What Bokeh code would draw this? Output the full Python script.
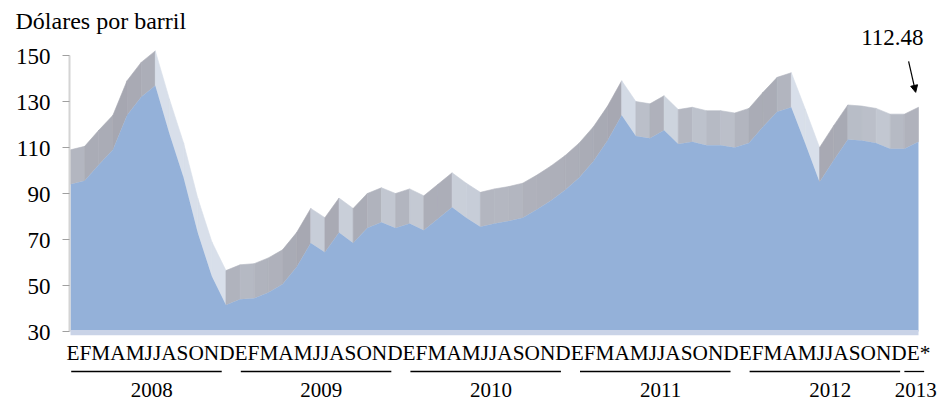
import math
from bokeh.plotting import figure
from bokeh.models import Range1d, Arrow, NormalHead
from bokeh.core.properties import value
from bokeh.embed import file_html
from bokeh.resources import INLINE

# ---------------- data ----------------
months = ["E", "F", "M", "A", "M", "J", "J", "A", "S", "O", "N", "D"]
years = ["2008", "2009", "2010", "2011", "2012", "2013"]
prices_2008 = [94.0, 95.5, 102.5, 109.0, 124.0, 132.0, 137.0, 116.0, 97.0, 73.0, 54.0, 41.5]
prices_2009 = [44.0, 44.5, 47.0, 50.5, 58.0, 68.5, 64.5, 73.0, 68.5, 75.0, 77.5, 75.0]
prices_2010 = [77.0, 74.0, 79.0, 84.0, 79.5, 75.5, 77.0, 78.0, 79.5, 83.0, 87.0, 91.5]
prices_2011 = [97.0, 104.0, 113.0, 124.0, 115.0, 114.0, 117.5, 111.5, 112.5, 111.0, 111.0, 110.0]
prices_2012 = [112.0, 119.0, 125.5, 127.5, 111.5, 95.0, 104.5, 113.5, 113.0, 112.0, 109.5, 109.5]
prices_2013 = [112.48]
y_ticks = [30, 50, 70, 90, 110, 130, 150]
axis_title = "Dólares por barril"
last_label = "112.48"

prices = prices_2008 + prices_2009 + prices_2010 + prices_2011 + prices_2012 + prices_2013
n = len(prices)
x = list(range(n))

# ---------------- style ----------------
FONT = "Liberation Serif"
DEPTH = 15.0          # 3D depth of the top surface, in value units
BASE = 30
TOP = 150
BLUE = "#94b1d9"
PXM = (918 - 70) / 60.0     # pixels per month
PXU = 2.3                   # pixels per price unit

W, H = 942, 404
x0 = -70 / PXM
x1 = x0 + W / PXM
y0 = BASE - (404 - 331) / PXU
y1 = TOP + 55 / PXU

p = figure(width=W, height=H, output_backend="svg", toolbar_location=None,
           x_range=Range1d(x0, x1), y_range=Range1d(y0, y1),
           x_axis_location=None, y_axis_location=None,
           min_border_left=0, min_border_right=0, min_border_top=0, min_border_bottom=0)
p.outline_line_color = None
p.grid.visible = False
p.background_fill_color = "white"
p.border_fill_color = "white"


def t(xv, yv, txt, size, align="left"):
    p.text(x=xv, y=yv, text=txt, text_font=value(FONT), text_font_size=value(size),
           text_color="black", text_align=align, text_baseline="middle")


# 3D top surface: one facet per month-to-month segment, shaded by slope
def mix(c1, c2, f):
    return "#%02x%02x%02x" % tuple(int(round(a + (b - a) * f)) for a, b in zip(c1, c2))


flat = (182, 186, 196)
dark = (166, 167, 177)
light = (216, 223, 234)
xs, ys, cols = [], [], []
for i in range(n - 1):
    v0, v1 = prices[i], prices[i + 1]
    xs.append([x[i], x[i + 1], x[i + 1], x[i]])
    ys.append([v0, v1, v1 + DEPTH, v0 + DEPTH])
    ang = math.atan2((v1 - v0) * PXU, PXM) / (math.pi / 2)
    if ang >= 0:
        cols.append(mix(flat, dark, min(1.0, ang * 1.4)))
    else:
        cols.append(mix(flat, light, min(1.0, -ang * 1.4)))
p.patches(xs, ys, fill_color=cols, line_color=cols, line_width=0.6)

# front face
p.varea(x=x, y1=[BASE] * n, y2=prices, fill_color=BLUE)
# floor strip
p.quad(left=[x[0]], right=[x[-1]], bottom=[BASE - 1.6], top=[BASE + 0.6],
       fill_color="#c9d3e7", line_color=None)

# value axis (ticks and labels from y_ticks)
ax_x = -1.0 / PXM
p.segment(x0=[ax_x], y0=[min(y_ticks)], x1=[ax_x], y1=[max(y_ticks)],
          line_color="#d4d4d4", line_width=2)
p.segment(x0=[ax_x - 7 / PXM] * len(y_ticks), y0=y_ticks,
          x1=[ax_x] * len(y_ticks), y1=y_ticks, line_color="#a0a0a0", line_width=1)
t([ax_x - 19 / PXM] * len(y_ticks), [v - 0.6 for v in y_ticks], [str(v) for v in y_ticks],
  "23px", align="right")

# month letters (one continuous string)
month_string = "".join(months) * (len(years) - 1) + months[0] + "*"
t([x[0] - 4 / PXM], [BASE - 21.5 / PXU], [month_string], "21.3px")

# year labels and underlines
seg_x0, seg_x1, yl_x = [], [], []
for k, yr in enumerate(years):
    i0 = 12 * k
    if k < len(years) - 1:
        seg_x0.append(i0 + 0.05)
        seg_x1.append(i0 + 10.7)
        yl_x.append(i0 + 5.75)
    else:
        seg_x0.append(i0 - 1.0)
        seg_x1.append(i0 + 0.4)
        yl_x.append(i0 - 0.2)
y_line = BASE - 40 / PXU
p.segment(x0=seg_x0, y0=[y_line] * len(years), x1=seg_x1, y1=[y_line] * len(years),
          line_color="black", line_width=1.3)
t(yl_x, [BASE - 58 / PXU] * len(years), years, "21px", align="center")

# axis title
t([x[0] - 55 / PXM], [TOP + 34.5 / PXU], [axis_title], "24px")

# last value annotation with arrow
last = prices[-1]
t([x[-1] - 1.85], [last + DEPTH + 30.3], [last_label], "23px", align="center")
p.add_layout(Arrow(end=NormalHead(size=7, fill_color="black", line_color="black"),
                   x_start=x[-1] - 0.7, y_start=last + DEPTH + 20,
                   x_end=x[-1] - 0.2, y_end=last + DEPTH + 6.5,
                   line_color="black", line_width=1.2))

open("out.html", "w").write(file_html(p, INLINE))
